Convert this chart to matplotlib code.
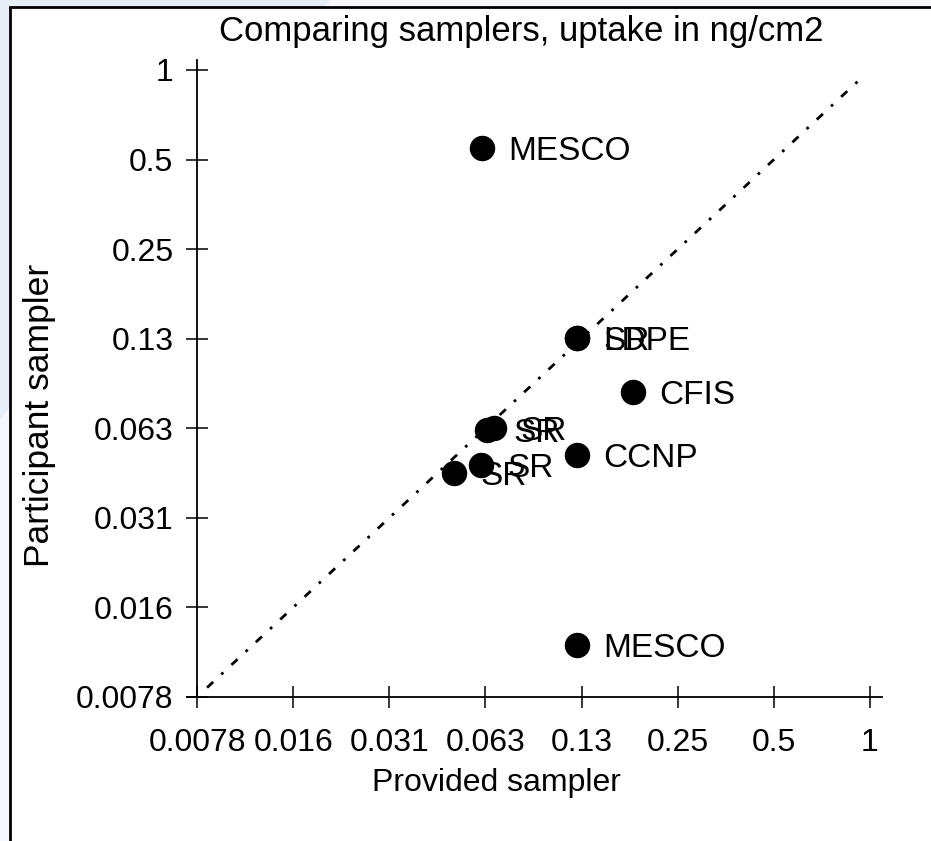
import matplotlib
matplotlib.use('Agg')
import matplotlib.pyplot as plt
from matplotlib.patches import Rectangle, Polygon

plt.rcParams['font.family'] = ['Liberation Sans', 'DejaVu Sans']

# data (ng/cm2)
labels = ['MESCO', 'SR', 'LDPE', 'CFIS', 'CCNP', 'MESCO', 'SR', 'SR', 'SR', 'SR']
provided = [0.0611, 0.121, 0.121, 0.181, 0.121, 0.121, 0.0633, 0.0666, 0.0606, 0.0499]
participant = [0.546, 0.126, 0.126, 0.0827, 0.0508, 0.0117, 0.0617, 0.0625, 0.0470, 0.0442]
diag = [0.0084, 0.946]
tick_vals = [2**-7, 2**-6, 2**-5, 2**-4, 2**-3, 2**-2, 2**-1, 1]
tick_labels = ['0.0078', '0.016', '0.031', '0.063', '0.13', '0.25', '0.5', '1']

W, H = 931, 841
fig = plt.figure(figsize=(W / 100, H / 100), dpi=100)
fig.patch.set_facecolor('#f6f8fd')
# pale blue corner of the page background
fig.patches.append(Polygon([(0, 1), (330 / W, 1), (0, 1 - 420 / H)], closed=True,
                           transform=fig.transFigure, facecolor='#e8eef8',
                           edgecolor='none', zorder=-3))
# white sheet with frame
fig.patches.append(Rectangle((10 / W, -0.05), 1.1, 1 - 7 / H + 0.05,
                             transform=fig.transFigure, facecolor='white',
                             edgecolor='black', linewidth=2, zorder=-2))

ax = fig.add_axes([187 / W, 1 - 697 / H, 695 / W, 637 / H])
ax.set_zorder(2)
ax.set_facecolor('none')
ax.set_xscale('log', base=2)
ax.set_yscale('log', base=2)
ax.set_xlim(2 ** (-7 - 10 / 96.1), 2 ** (12 / 96.1))
ax.set_ylim(2 ** -7, 2 ** (10 / 89.6))

for s in ['top', 'right']:
    ax.spines[s].set_visible(False)
ax.spines['left'].set_position(('data', 2 ** -7))
ax.spines['left'].set_linewidth(1.3)
ax.spines['bottom'].set_linewidth(1.3)

ax.set_xticks(tick_vals)
ax.set_xticklabels(tick_labels)
ax.set_yticks(tick_vals)
ax.set_yticklabels(tick_labels)
ax.minorticks_off()
ax.tick_params(direction='inout', length=16, width=1.1, labelsize=23)
ax.tick_params(axis='x', pad=14)
ax.tick_params(axis='y', pad=9)

ax.plot(diag, diag, color='black', linewidth=2, linestyle=(0, (3, 4, 1, 4)))
ax.scatter(provided, participant, s=300, color='black', zorder=3)
for lab, x, y in zip(labels, provided, participant):
    ax.annotate(lab, (x, y), xytext=(19, 0), textcoords='offset points',
                va='center_baseline', ha='left', fontsize=24)

fig.text(496 / W, 1 - 783 / H, 'Provided sampler', ha='center', va='center', fontsize=23)
fig.text(40 / W, 1 - 415 / H, 'Participant sampler', ha='center', va='center',
         rotation=90, fontsize=25.5)
fig.text(521 / W, 1 - 32 / H, 'Comparing samplers, uptake in ng/cm2',
         ha='center', va='center', fontsize=25)

fig.savefig('out.png', dpi=100)
